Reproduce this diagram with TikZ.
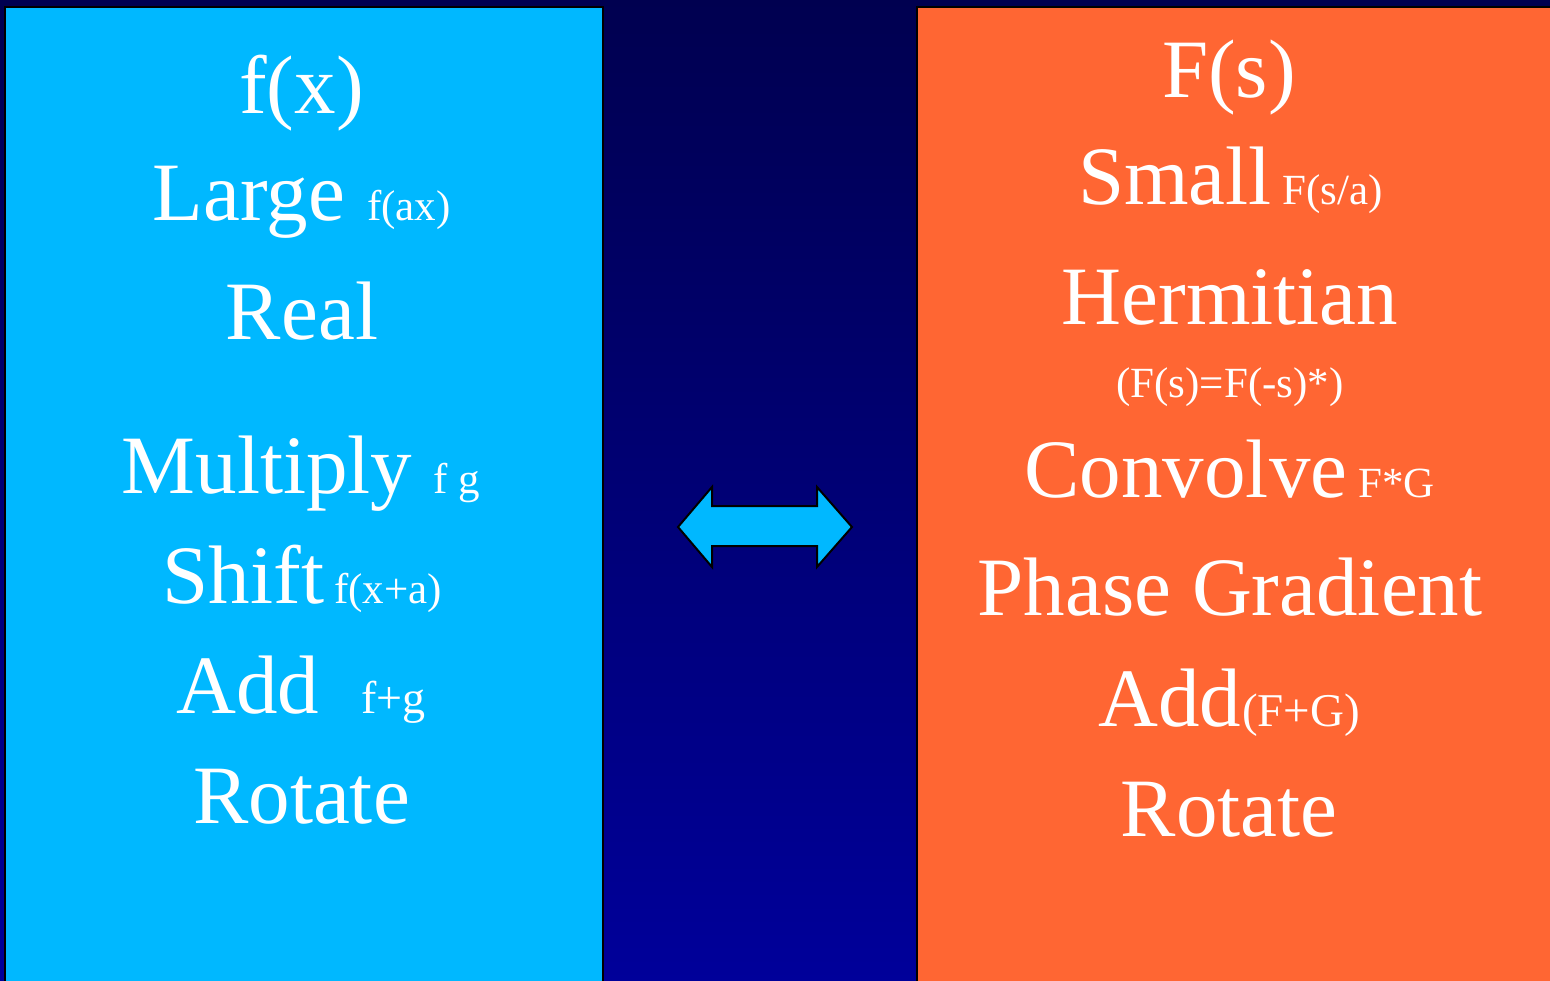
\documentclass[tikz,border=0pt]{standalone}
\usepackage{fontspec}
\setmainfont{Liberation Serif}
\definecolor{panelcyan}{RGB}{0,184,255}
\definecolor{panelorange}{RGB}{255,102,51}
\definecolor{bgtop}{RGB}{0,0,80}
\definecolor{bgbot}{RGB}{0,0,154}
\tikzset{
  big/.style={text=white, inner sep=0pt, anchor=base, font=\fontsize{83}{83}\selectfont},
  sml/.style={text=white, inner sep=0pt, anchor=base west, font=\fontsize{43}{43}\selectfont},
  panel/.style={draw=black, line width=1.5pt},
  dblarrow/.style={fill=panelcyan, draw=black, line width=2pt, line join=miter}
}
\begin{document}
\begin{tikzpicture}[x=1pt, y=-1pt]
\useasboundingbox (0,0) rectangle (1550,981);
\shade[top color=bgtop, bottom color=bgbot] (0,0) rectangle (1550,981);
% panels
\path[panel, fill=panelcyan] (5,7) rectangle (603,990);
\path[panel, fill=panelorange] (917,7) rectangle (1560,990);
% double arrow
\path[dblarrow] (678,527) -- (712,487) -- (712,506) -- (817,506) -- (817,487)
  -- (852,527) -- (817,567) -- (817,546) -- (712,546) -- (712,567) -- cycle;
% left column
\node[big] (fx) at (301.5,114) {f(x)};
\node[big] (large) at (249,221) {Large};
\node[sml] (fax) at (367,221) {f(ax)};
\node[big] (real) at (302,340) {Real};
\node[big] (mult) at (267,493) {Multiply};
\node[sml] (fg) at (433,493) {f g};
\node[big] (shift) at (243.5,603) {Shift};
\node[sml] (fxa) at (334,603) {f(x+a)};
\node[big] (addl) at (248,713) {Add};
\node[sml, font=\fontsize{46}{46}\selectfont] (fpg) at (361,713) {f+g};
\node[big] (rotl) at (301.5,823) {Rotate};
% right column
\node[big] (Fs) at (1229,98) {F(s)};
\node[big] (small) at (1175,205) {Small};
\node[sml] (Fsa) at (1282,205) {F(s/a)};
\node[big] (herm) at (1230,325) {Hermitian};
\node[sml, anchor=base, font=\fontsize{43}{43}\selectfont] (hermdef) at (1230,398) {(F(s)=F(-s)*)};
\node[big] (conv) at (1186,497) {Convolve};
\node[sml] (FG) at (1358,497) {F*G};
\node[big] (phase) at (1230,615) {Phase Gradient};
\node[big] (addr) at (1170,726) {Add};
\node[sml, font=\fontsize{47}{47}\selectfont] (FpG) at (1242,726) {(F+G)};
\node[big] (rotr) at (1229,836) {Rotate};
\end{tikzpicture}
\end{document}
